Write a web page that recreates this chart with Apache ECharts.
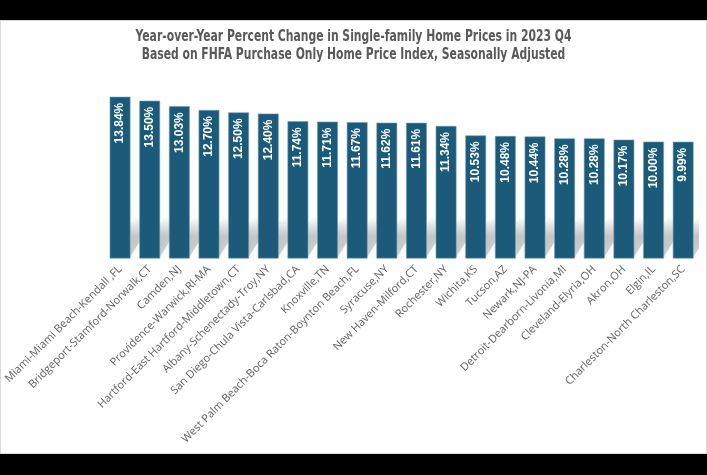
<!DOCTYPE html>
<html>
<head>
<meta charset="utf-8">
<script src="https://cdn.jsdelivr.net/npm/echarts@6/dist/echarts.min.js"></script>
<style>
html,body{margin:0;padding:0;background:#000;width:707px;height:475px;overflow:hidden;}
#frame{position:absolute;left:0;top:20px;width:705px;height:432px;background:#fff;border:1px solid #d9d9d9;}
#chart{width:705px;height:432px;}
</style>
</head>
<body>
<div id="frame"><div id="chart"></div></div>
<script>
var categories = ["Miami-Miami Beach-Kendall ,FL","Bridgeport-Stamford-Norwalk,CT","Camden,NJ","Providence-Warwick,RI-MA","Hartford-East Hartford-Middletown,CT","Albany-Schenectady-Troy,NY","San Diego-Chula Vista-Carlsbad,CA","Knoxville,TN","West Palm Beach-Boca Raton-Boynton Beach,FL","Syracuse,NY","New Haven-Milford,CT","Rochester,NY","Wichita,KS","Tucson,AZ","Newark,NJ-PA","Detroit-Dearborn-Livonia,MI","Cleveland-Elyria,OH","Akron,OH","Elgin,IL","Charleston-North Charleston,SC"];
var values = [13.84,13.50,13.03,12.70,12.50,12.40,11.74,11.71,11.67,11.62,11.61,11.34,10.53,10.48,10.44,10.28,10.28,10.17,10.00,9.99];
var titleLines = ["Year-over-Year Percent Change in Single-family Home Prices in 2023 Q4","Based on FHFA Purchase Only Home Price Index, Seasonally Adjusted"];

var titleFont = 'bold 15px "DejaVu Sans Condensed","Liberation Sans Narrow",sans-serif';
var chart = echarts.init(document.getElementById('chart'));
var option = {
  backgroundColor: '#fff',
  animation: false,
  graphic: titleLines.map(function (t, i) {
    return {
      type: 'text',
      x: 352.5,
      y: 16 + i * 18,
      scaleX: 0.8,
      silent: true,
      style: {
        text: t,
        font: titleFont,
        fill: '#595959',
        textAlign: 'center',
        textVerticalAlign: 'middle'
      }
    };
  }),
  grid: { left: 101, right: 8, top: 50.5, bottom: 194.5 },
  xAxis: {
    type: 'category',
    data: categories,
    axisLine: { show: false },
    axisTick: { show: false },
    axisLabel: {
      interval: 0,
      rotate: 45,
      margin: 9,
      fontSize: 11,
      color: '#606060',
      fontFamily: '"Open Sans","Liberation Sans",sans-serif'
    }
  },
  yAxis: {
    type: 'value',
    min: 0,
    max: 16,
    show: false,
    splitLine: { show: false }
  },
  series: [
    {
      type: 'custom',
      z: 1,
      silent: true,
      clip: true,
      data: values.map(function (v, i) { return [i, v]; }),
      renderItem: function (params, api) {
        var idx = api.value(0);
        var base = api.coord([idx, 0]);
        var top = api.coord([idx, api.value(1)]);
        var w = api.size([1, 0])[0] * 0.7;
        var h = Math.min(40, base[1] - top[1]);
        var s = 25;
        var xL = base[0] - w / 2, xR = base[0] + w / 2, yB = base[1] - 2;
        return {
          type: 'polygon',
          shape: { points: [[xL, yB], [xR, yB], [xR + s, yB - h], [xL + s, yB - h]] },
          style: {
            fill: new echarts.graphic.LinearGradient(0, 1, 0, 0, [
              { offset: 0, color: 'rgba(110,110,110,0.30)' },
              { offset: 0.5, color: 'rgba(110,110,110,0.32)' },
              { offset: 1, color: 'rgba(110,110,110,0.0)' }
            ]),
            shadowBlur: 6,
            shadowColor: 'rgba(110,110,110,0.35)'
          }
        };
      }
    },
    {
      type: 'bar',
      z: 2,
      data: values,
      barCategoryGap: '30%',
      itemStyle: {
        color: '#1b5a79',
        borderColor: '#6f9fb7',
        borderWidth: 0.6
      },
      label: {
        show: true,
        position: 'insideTop',
        rotate: 90,
        align: 'right',
        verticalAlign: 'middle',
        distance: 6,
        color: '#fff',
        fontWeight: 'bold',
        fontSize: 12,
        fontFamily: '"Liberation Sans",Arial,sans-serif',
        formatter: function (p) { return p.value.toFixed(2) + '%'; }
      }
    }
  ]
};
chart.setOption(option);
</script>
</body>
</html>
